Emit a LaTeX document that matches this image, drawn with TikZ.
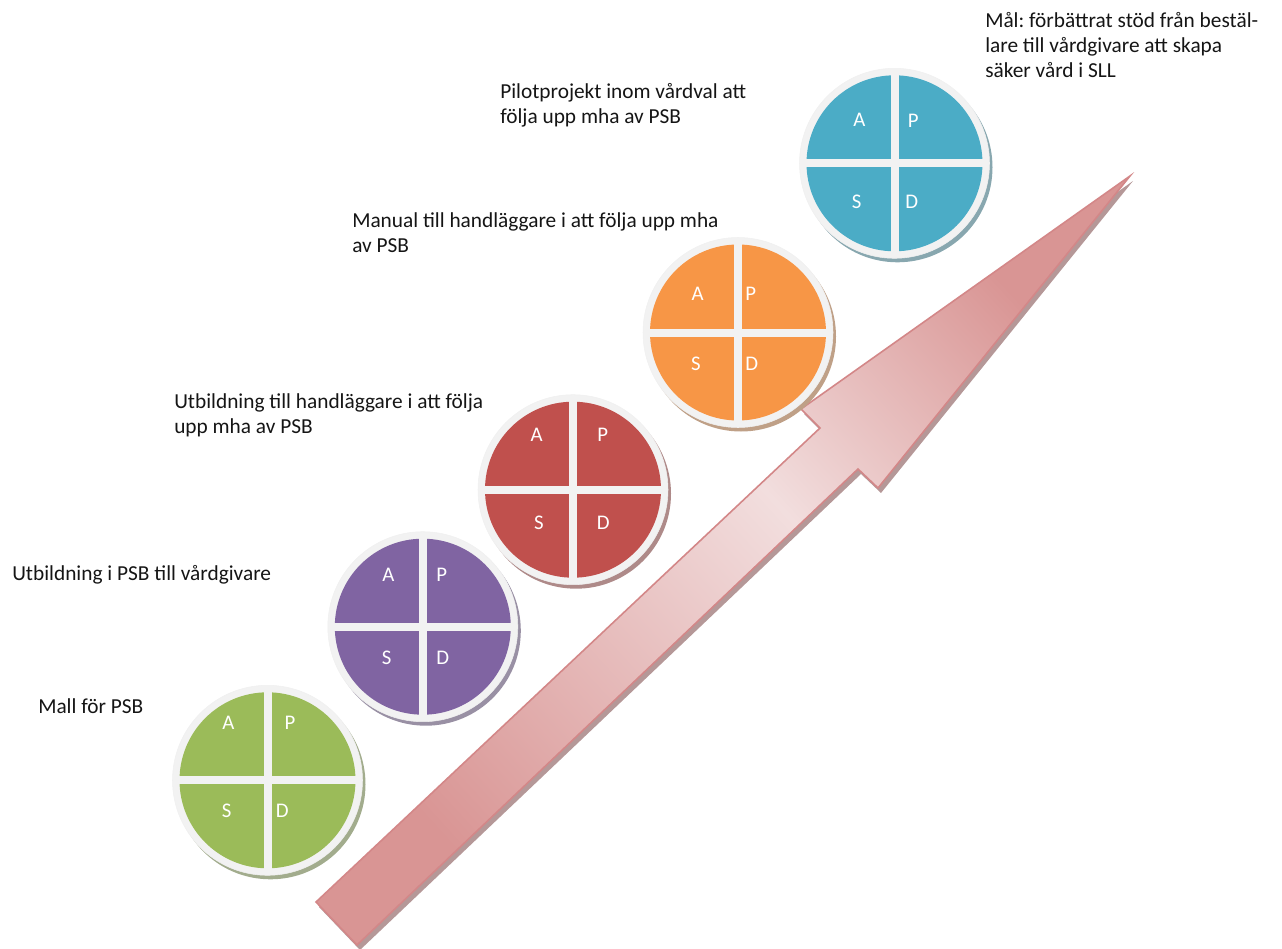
\documentclass[tikz,border=0pt]{standalone}
\usepackage{fontspec}
\setmainfont{Carlito}
\frenchspacing
\definecolor{ringc}{HTML}{F2F2F2}
\definecolor{pgreen}{HTML}{9BBB59}
\definecolor{ppurple}{HTML}{8064A2}
\definecolor{pred}{HTML}{C0504D}
\definecolor{porange}{HTML}{F79646}
\definecolor{pblue}{HTML}{4BACC6}
\definecolor{arrA}{HTML}{D99594}
\definecolor{arrB}{HTML}{F2DEDE}
\definecolor{arrC}{HTML}{D99594}
\definecolor{arrEdge}{HTML}{D38788}
\definecolor{arrShadow}{HTML}{B59898}
\definecolor{txt}{HTML}{151515}
\pgfdeclarehorizontalshading{arrowshade}{100bp}{color(0bp)=(arrA); color(25bp)=(arrA); color(55bp)=(arrB); color(75bp)=(arrC); color(100bp)=(arrC)}
\newcommand\pdsawheel[4]{%
  \fill[#4!40!gray!80!white] (#2+3,#3+4) circle [radius=95];
  \node[ringdisc] (#1) at (#2,#3) {};
  \fill[#4] (#2,#3) circle [radius=88];
  \fill[ringc] (#2-4,#3-89) rectangle (#2+4,#3+89);
  \fill[ringc] (#2-89,#3-4) rectangle (#2+89,#3+4);
}
\begin{document}
\begin{tikzpicture}[x=0.75pt,y=-0.75pt,
  ringdisc/.style={circle, fill=ringc, draw=black!6, line width=0.4pt, minimum size=142.5pt, inner sep=0},
  letter/.style={text=white, font=\fontsize{15.6}{18.75}\selectfont, inner sep=0},
  lbl/.style={anchor=north west, inner sep=0, align=left, text=txt, font=\fontsize{16}{18.75}\selectfont}]
\useasboundingbox (0,0) rectangle (1282,949);
% arrow
\coordinate (t1) at (316,902);
\coordinate (n1) at (820,428);
\coordinate (b1) at (801,409);
\coordinate (tip) at (1130,176);
\coordinate (b2) at (878,488);
\coordinate (n2) at (858,469);
\coordinate (t2) at (357,945);
\fill[arrShadow] ([shift={(3,5)}]t1) -- ([shift={(3,5)}]n1) -- ([shift={(3,5)}]b1) -- ([shift={(3,5)}]tip) -- ([shift={(3,5)}]b2) -- ([shift={(3,5)}]n2) -- ([shift={(3,5)}]t2) -- cycle;
\draw[arrEdge, line width=1.2pt, shading=arrowshade, shading angle=42.5, line join=miter]
  (t1) -- (n1) -- (b1) -- (tip) -- (b2) -- (n2) -- (t2) -- cycle;
% wheels
\pdsawheel{g}{267.5}{780.3}{pgreen}
\pdsawheel{pu}{422.8}{626.7}{ppurple}
\pdsawheel{r}{573}{489.7}{pred}
\pdsawheel{o}{738}{332.5}{porange}
\pdsawheel{b}{894.5}{163.3}{pblue}
% letters
\node[letter] (gA) at (228.3,722.7) {A};
\node[letter] (gP) at (290,723.3) {P};
\node[letter] (gS) at (226.7,811) {S};
\node[letter] (gD) at (282.3,811) {D};
\node[letter] (puA) at (388.3,575) {A};
\node[letter] (puP) at (441.7,575) {P};
\node[letter] (puS) at (386.7,658.3) {S};
\node[letter] (puD) at (442.7,658.3) {D};
\node[letter] (rA) at (536.7,435) {A};
\node[letter] (rP) at (602.7,435) {P};
\node[letter] (rS) at (539,522.7) {S};
\node[letter] (rD) at (603.3,522.7) {D};
\node[letter] (oA) at (697.7,294) {A};
\node[letter] (oP) at (750.7,294) {P};
\node[letter] (oS) at (696,364.3) {S};
\node[letter] (oD) at (751.7,364.3) {D};
\node[letter] (bA) at (859.3,120) {A};
\node[letter] (bP) at (913.3,121) {P};
\node[letter] (bS) at (856.7,201.7) {S};
\node[letter] (bD) at (911.7,201.7) {D};
% labels
\node[lbl] (l1) at (38,698) {Mall för PSB};
\node[lbl] (l2) at (12,565) {Utbildning i PSB till vårdgivare};
\node[lbl] (l3) at (174,393) {Utbildning till handläggare i att följa\\upp mha av PSB};
\node[lbl] (l4) at (352,212) {Manual till handläggare i att följa upp mha\\av PSB};
\node[lbl] (l5) at (500,83) {Pilotprojekt inom vårdval att\\följa upp mha av PSB};
\node[lbl] (l6) at (985,12) {Mål: förbättrat stöd från bestäl-\\lare till vårdgivare att skapa\\säker vård i SLL};
\end{tikzpicture}
\end{document}
